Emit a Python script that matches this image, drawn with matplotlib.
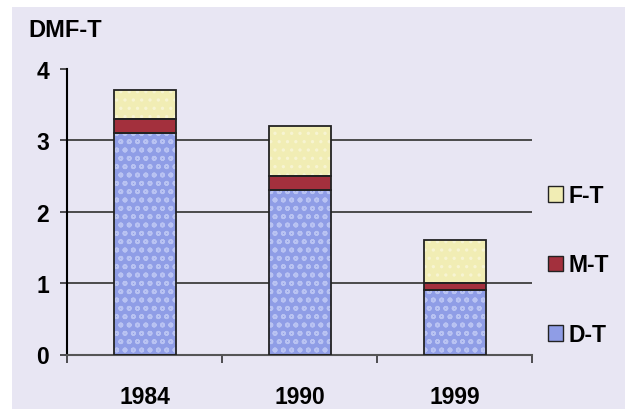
import numpy as np
import matplotlib.pyplot as plt
from matplotlib.patches import Patch

plt.rcParams['font.family'] = ['Liberation Sans', 'DejaVu Sans']
plt.rcParams['font.weight'] = 'bold'
plt.rcParams['hatch.linewidth'] = 1.2

# DMF-T components per survey year
years = ['1984', '1990', '1999']
d_t = [3.1, 2.3, 0.9]
m_t = [0.2, 0.2, 0.1]
f_t = [0.4, 0.7, 0.6]

bg = '#e8e6f3'
c_d = '#8f9de6'
c_m = '#a3303d'
c_f = '#f1edb4'

fig = plt.figure(figsize=(6.25, 4.1), dpi=100, facecolor='white')

# lavender panel behind everything
bgax = fig.add_axes([12 / 625, 0, 1 - 12 / 625, 1 - 8 / 410], zorder=-1)
bgax.set_facecolor(bg)
bgax.set_xticks([])
bgax.set_yticks([])
for s in bgax.spines.values():
    s.set_visible(False)

ax = fig.add_axes([67 / 625, 1 - 355.5 / 410, (532 - 67) / 625, (355.5 - 70) / 410])
ax.set_facecolor('none')

x = np.arange(len(years)) + 0.5
w = 0.4
d = np.array(d_t)
m = np.array(m_t)
f = np.array(f_t)

# filled segments with a light pattern, then outlines on top
ax.bar(x, d, w, color=c_d, hatch='oo', edgecolor='#b9c3f2', linewidth=0, zorder=2)
ax.bar(x, m, w, bottom=d, color=c_m, edgecolor='#8a2230', linewidth=0, zorder=2)
ax.bar(x, f, w, bottom=d + m, color=c_f, hatch='..', edgecolor='#f7f4d2', linewidth=0, zorder=2)
ax.bar(x, d, w, fill=False, edgecolor='#222222', linewidth=1.3, zorder=3)
ax.bar(x, m, w, bottom=d, fill=False, edgecolor='#222222', linewidth=1.3, zorder=3)
ax.bar(x, f, w, bottom=d + m, fill=False, edgecolor='#222222', linewidth=1.3, zorder=3)

ax.set_xlim(0, 3)
ax.set_ylim(0, 4)
for yv in [1, 2, 3]:
    ax.axhline(yv, color='#4a4a4a', linewidth=1.4, zorder=1)

for s in ['top', 'right']:
    ax.spines[s].set_visible(False)
ax.spines['left'].set_color('black')
ax.spines['left'].set_linewidth(1.5)
ax.spines['bottom'].set_color('#555555')
ax.spines['bottom'].set_linewidth(1.5)

ax.set_yticks([0, 1, 2, 3, 4])
ax.set_yticklabels(['0', '1', '2', '3', '4'], fontsize=16.5, fontweight='bold')
ax.tick_params(axis='y', length=5, width=1.2, pad=8, color='#333333')

ax.set_xticks([0, 1, 2, 3])
ax.set_xticklabels([])
ax.tick_params(axis='x', which='major', length=6, width=1.2, color='#333333')
ax.set_xticks(x, minor=True)
ax.set_xticklabels(years, minor=True, fontsize=16.5, fontweight='bold')
ax.tick_params(axis='x', which='minor', length=0, pad=22)

fig.text(28 / 625, 1 - 37 / 410, 'DMF-T', fontsize=17, fontweight='bold',
         ha='left', va='baseline')

handles = [Patch(facecolor=c_f, edgecolor='#222222', linewidth=1.0),
           Patch(facecolor=c_m, edgecolor='#222222', linewidth=1.0),
           Patch(facecolor=c_d, edgecolor='#222222', linewidth=1.0)]
leg = fig.legend(handles, ['F-T', 'M-T', 'D-T'], loc='center left',
                 bbox_to_anchor=(548 / 625, 1 - 266 / 410), frameon=False,
                 prop={'size': 16.5, 'weight': 'bold'}, handlelength=0.65,
                 handleheight=0.65, handletextpad=0.25, labelspacing=2.03,
                 borderpad=0, borderaxespad=0)

fig.savefig('out.png', dpi=100, facecolor='white')
